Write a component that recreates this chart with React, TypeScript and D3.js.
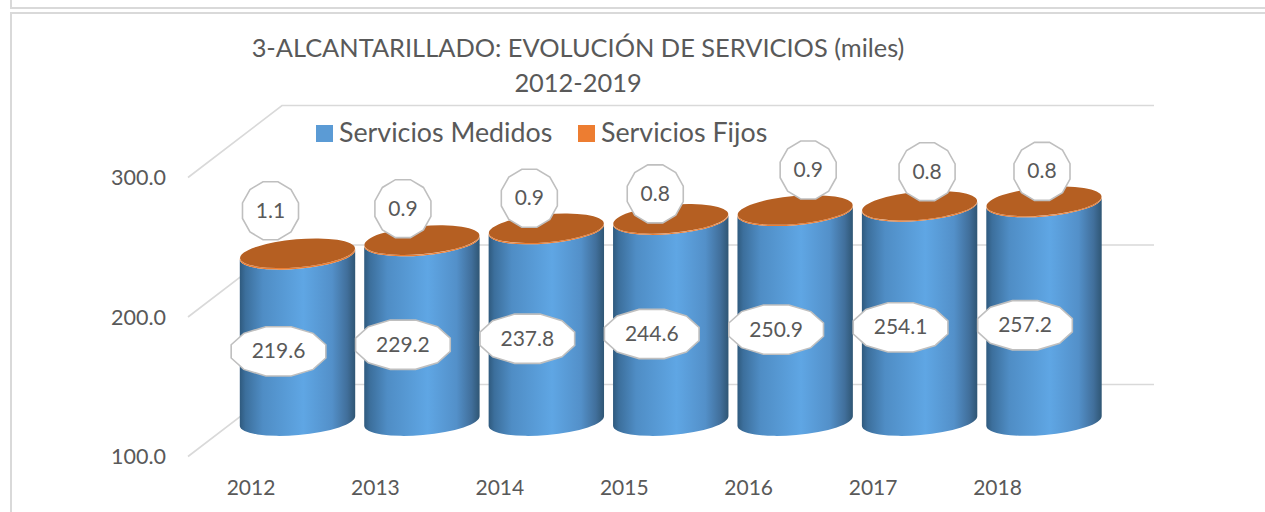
import React from "react";
import * as d3 from "d3";

const years = ["2012", "2013", "2014", "2015", "2016", "2017", "2018"];
const medidos = [219.6, 229.2, 237.8, 244.6, 250.9, 254.1, 257.2];
const fijos = [1.1, 0.9, 0.9, 0.8, 0.9, 0.8, 0.8];
const axisTicks = [100, 200, 300];
const legendItems = ["Servicios Medidos", "Servicios Fijos"];
const titleLines = ["3-ALCANTARILLADO: EVOLUCIÓN DE SERVICIOS (miles)", "2012-2019"];

// manual label layout (offsets from the cylinder centre / top)
const fijoDx = [-27, -19, -17, -15.5, 13, 7.5, -2];
const fijoDy = [-42.5, -31.5, -30, -25, -40, -34, -30];

const FONT = "Lato, 'Open Sans', sans-serif";
const TEXT = "#595959";
const GRID = "#d9d9d9";

const x = d3.scaleLinear().domain([0, 6]).range([297.5, 1044]);
const yBar = d3.scaleLinear().domain([100, 300]).range([421, 143]);
const yFront = d3.scaleLinear().domain([100, 300]).range([456.5, 177.5]);
const DEPTH_X = 94;
const DEPTH_Y = 72;
const RX = 57.7;
const RY = 14;
const TILT = 5;
const HALF = 5;

function dodecagon(cx: number, cy: number, rx: number, ry: number) {
  const pts = d3.range(12).map((i) => {
    const a = ((15 + i * 30) * Math.PI) / 180;
    return [cx + rx * Math.cos(a), cy + ry * Math.sin(a)] as [number, number];
  });
  return d3.line()(pts) + "Z";
}

function bodyPath(cx: number, yTop: number, yBottom: number) {
  const l = cx - RX;
  const r = cx + RX;
  const arc = `A${RX} ${RY} ${-TILT}`;
  return `M${l} ${yTop + HALF}L${l} ${yBottom + HALF}${arc} 0 0 ${r} ${yBottom - HALF}L${r} ${yTop - HALF}${arc} 0 1 ${l} ${yTop + HALF}Z`;
}

function Label({ cx, cy, rx, ry, text }: { cx: number; cy: number; rx: number; ry: number; text: string }) {
  return (
    <g>
      <path d={dodecagon(cx, cy, rx, ry)} fill="#fff" stroke="#bfbfbf" strokeWidth={1.6} />
      <text x={cx} y={cy + 7} textAnchor="middle" fontSize={21} fill={TEXT} fontFamily={FONT}>
        {text}
      </text>
    </g>
  );
}

export default function App() {
  const gridEnd = 1154;
  const frontX = 188;
  return (
    <svg
      width={1265}
      height={512}
      viewBox="0 0 1265 512"
      style={{ position: "absolute", left: 0, top: 0, background: "#fff" }}
    >
      <defs>
        <linearGradient id="cyl" x1="0" x2="1" y1="0" y2="0">
          <stop offset="0" stopColor="#2f5a7e" />
          <stop offset="0.05" stopColor="#3c6f9c" />
          <stop offset="0.2" stopColor="#4f8dc5" />
          <stop offset="0.55" stopColor="#5fa6e4" />
          <stop offset="0.8" stopColor="#5390c9" />
          <stop offset="0.93" stopColor="#416f9b" />
          <stop offset="1" stopColor="#2f5674" />
        </linearGradient>
      </defs>

      {/* page frames */}
      <path d="M11 0V8H1265" fill="none" stroke={GRID} strokeWidth={2} />
      <path d="M11 512V13H1265" fill="none" stroke={GRID} strokeWidth={2} />

      {/* title */}
      {titleLines.map((t, i) => (
        <text key={t} x={578} y={57 + i * 35} textAnchor="middle" fontSize={25.4} fill={TEXT} fontFamily={FONT}>
          {t}
        </text>
      ))}

      {/* gridlines */}
      {axisTicks.map((v) => (
        <path
          key={v}
          d={`M${frontX} ${yFront(v)}L${frontX + DEPTH_X} ${yFront(v) - DEPTH_Y}H${gridEnd}`}
          fill="none"
          stroke={GRID}
          strokeWidth={1.6}
        />
      ))}

      {/* value axis labels */}
      {axisTicks.map((v) => (
        <text key={v} x={166} y={yFront(v) + 7.5} textAnchor="end" fontSize={21.5} fill={TEXT} fontFamily={FONT}>
          {v.toFixed(1)}
        </text>
      ))}

      {/* legend */}
      {legendItems.map((t, i) => {
        const lx = [316, 578][i];
        return (
          <g key={t}>
            <rect x={lx} y={125} width={17} height={17} fill={["#5b9bd5", "#ed7d31"][i]} />
            <text x={lx + 23} y={142} fontSize={26.8} fill={TEXT} fontFamily={FONT}>
              {t}
            </text>
          </g>
        );
      })}

      {/* cylinders */}
      {years.map((yr, i) => {
        const cx = x(i);
        const yBase = yBar(100);
        const yM = yBar(medidos[i]);
        const yT = yBar(medidos[i] + fijos[i]);
        return (
          <g key={yr}>
            <path d={bodyPath(cx, yM, yBase)} fill="url(#cyl)" />
            <path d={bodyPath(cx, yT, yM)} fill="#ed7d31" />
            <ellipse cx={cx} cy={yT} rx={RX} ry={RY} fill="#b55f22" transform={`rotate(${-TILT} ${cx} ${yT})`} />
          </g>
        );
      })}

      {/* labels */}
      {years.map((yr, i) => {
        const cx = x(i);
        const mid = yBar(100 + (medidos[i] - 100) / 2) + 13.5;
        const yT = yBar(medidos[i] + fijos[i]);
        return (
          <g key={yr}>
            <Label cx={cx + fijoDx[i]} cy={yT + fijoDy[i]} rx={29} ry={30} text={fijos[i].toFixed(1)} />
            <Label cx={cx - 19} cy={mid} rx={49} ry={25.5} text={medidos[i].toFixed(1)} />
          </g>
        );
      })}

      {/* category labels */}
      {years.map((yr, i) => (
        <text key={yr} x={x(i) - 46.5} y={495} textAnchor="middle" fontSize={21} fill={TEXT} fontFamily={FONT}>
          {yr}
        </text>
      ))}
    </svg>
  );
}
